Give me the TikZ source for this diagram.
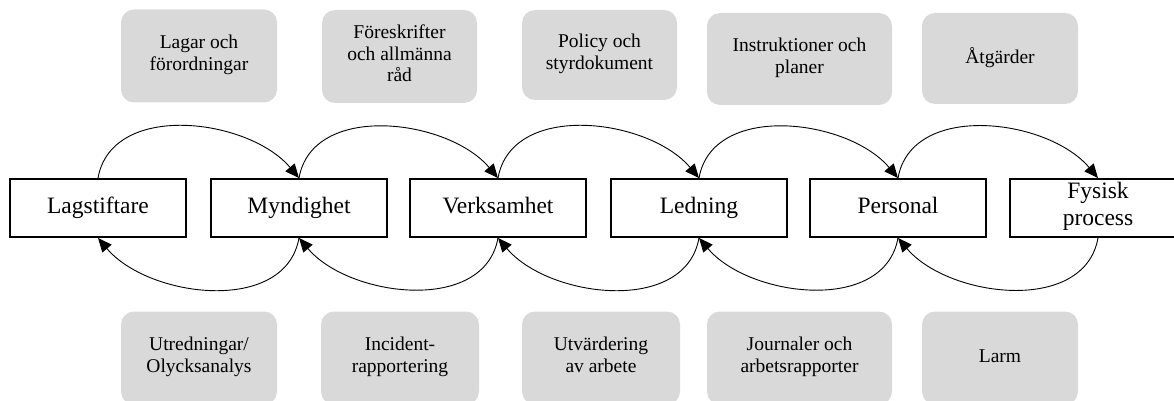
\documentclass[tikz,border=0pt]{standalone}
\usepackage{fontspec}
\setmainfont{Liberation Serif}
\usetikzlibrary{arrows.meta}
\definecolor{boxgray}{HTML}{D9D9D9}

\begin{document}
\begin{tikzpicture}[x=1pt,y=1pt,
    actor/.style={draw,line width=1.8pt,minimum width=176pt,minimum height=58pt,
      align=center,inner sep=0pt,font=\fontsize{23.5}{27}\selectfont,
      execute at begin node=\strut,execute at end node=\strut},
    info/.style={fill=boxgray,rounded corners=13pt,minimum height=93pt,
      align=center,inner sep=0pt,font=\fontsize{19.5}{21.5}\selectfont,
      execute at begin node=\strut,execute at end node=\strut},
    flow/.style={-{Triangle[length=14pt,width=12pt]},line width=0.9pt}]
      \useasboundingbox (0,0) rectangle (1174,-401);
      \clip (0,0) rectangle (1174,-401);

      % chain of actors
      \node[actor] (Lag) at (98,-208) {Lagstiftare};
      \node[actor] (Myn) at (299,-208) {Myndighet};
      \node[actor] (Verk) at (498,-208) {Verksamhet};
      \node[actor] (Led) at (699,-208) {Ledning};
      \node[actor] (Pers) at (898,-208) {Personal};
      \node[actor] (Fys) at (1098,-208) {Fysisk\\process};

      % what goes down
      \node[info,minimum width=156pt] (Lagar) at (199,-56) {Lagar och\\förordningar};
      \node[info,minimum width=155pt] (Foreskr) at (399.5,-56.5) {Föreskrifter\\och allmänna\\råd};
      \node[info,minimum width=155pt,minimum height=90pt] (Policy) at (599.5,-55) {Policy och\\styrdokument};
      \node[info,minimum width=185pt,minimum height=92pt] (Instr) at (799.5,-59) {Instruktioner och\\planer};
      \node[info,minimum width=156pt,minimum height=91pt] (Atg) at (1000,-58.5) {Åtgärder};

      % what goes up
      \node[info,minimum width=156pt] (Utred) at (199,-358) {Utredningar/\\Olycksanalys};
      \node[info,minimum width=158pt] (Incid) at (400,-358) {Incident-\\rapportering};
      \node[info,minimum width=158pt] (Utv) at (601,-358) {Utvärdering\\av arbete};
      \node[info,minimum width=185pt] (Journ) at (799.5,-358) {Journaler och\\arbetsrapporter};
      \node[info,minimum width=156pt] (Larm) at (1000,-358) {Larm};

      \draw[flow] (Lag.north) to[out=80,in=130] (Myn.north);
      \draw[flow] (Myn.north) to[out=80,in=130] (Verk.north);
      \draw[flow] (Verk.north) to[out=80,in=130] (Led.north);
      \draw[flow] (Led.north) to[out=80,in=130] (Pers.north);
      \draw[flow] (Pers.north) to[out=80,in=130] (Fys.north);

      \draw[flow] (Myn.south) to[out=-100,in=-50] (Lag.south);
      \draw[flow] (Verk.south) to[out=-100,in=-50] (Myn.south);
      \draw[flow] (Led.south) to[out=-100,in=-50] (Verk.south);
      \draw[flow] (Pers.south) to[out=-100,in=-50] (Led.south);
      \draw[flow] (Fys.south) to[out=-100,in=-50] (Pers.south);
    \end{tikzpicture}
\end{document}
